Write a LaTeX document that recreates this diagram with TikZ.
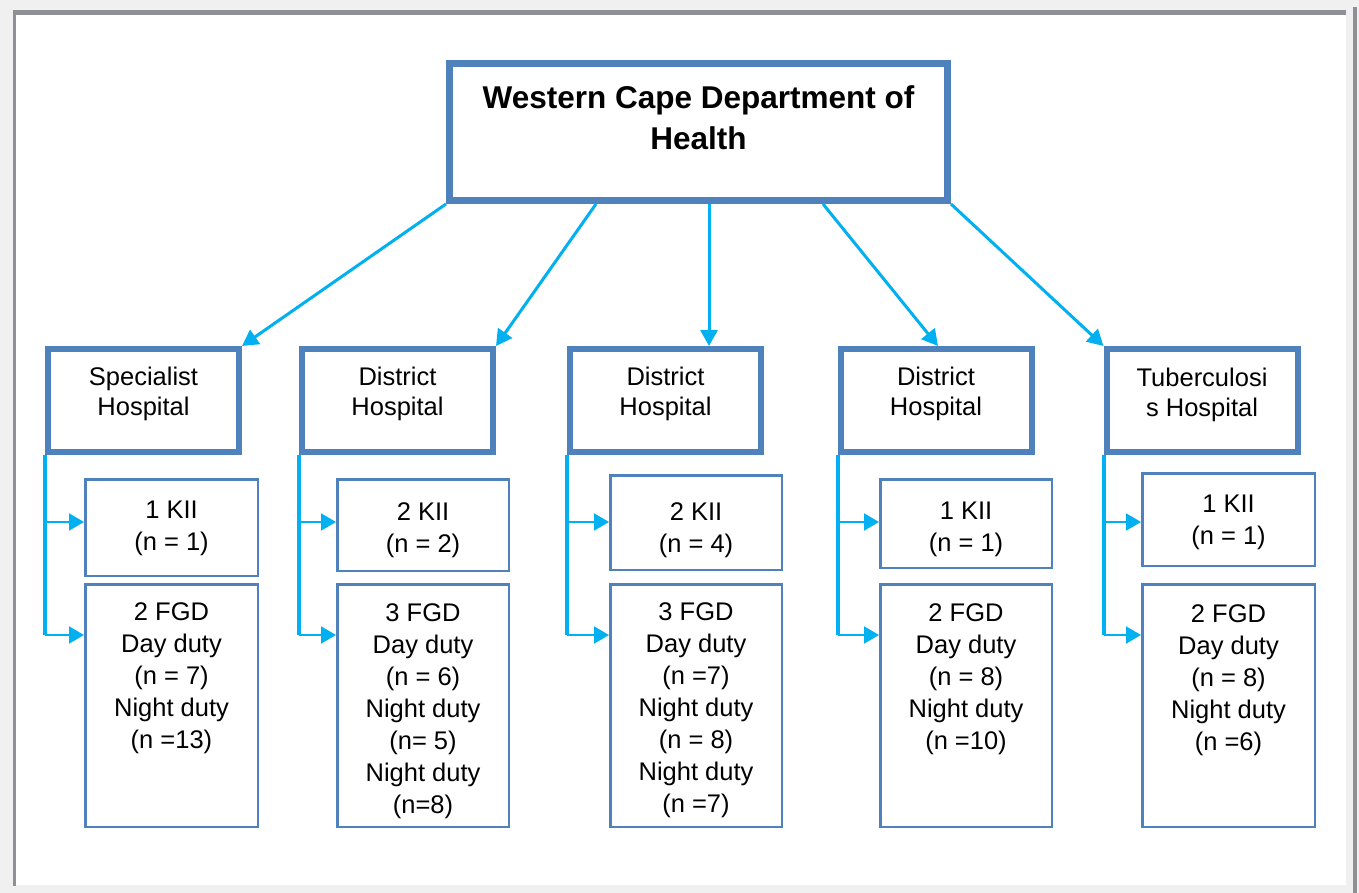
\documentclass[tikz,border=0pt]{standalone}
\usepackage{fontspec}
\setmainfont{Liberation Sans}
\usetikzlibrary{arrows.meta}
\definecolor{boxblue}{HTML}{4F81BD}
\definecolor{linkblue}{HTML}{00B0F0}
\definecolor{framegray}{HTML}{8E9095}
\definecolor{pagegray}{HTML}{F0F0F0}
\begin{document}
\begin{tikzpicture}[x=1pt,y=-1pt,
 topbox/.style={draw=boxblue, line width=7pt, minimum width=498pt, minimum height=137pt, inner sep=0pt},
 hospbox/.style={draw=boxblue, line width=6pt, minimum width=191pt, minimum height=103pt, inner sep=0pt},
 subbox/.style={draw=boxblue, line width=2.5pt, inner sep=0pt},
 txt/.style={anchor=north, inner sep=0pt, align=center, font=\fontsize{25.5}{32}\selectfont},
 htxt/.style={anchor=north, inner sep=0pt, align=center, font=\fontsize{25.5}{30}\selectfont},
 ttxt/.style={anchor=north, inner sep=0pt, align=center, font=\bfseries\fontsize{31.5}{41}\selectfont},
 conn/.style={draw=linkblue, line width=3pt, -{Triangle[length=16pt,width=17pt]}},
 trunk/.style={draw=linkblue, line width=4pt},
 branch/.style={draw=linkblue, line width=2pt, -{Triangle[length=15pt,width=17pt]}},
]
\useasboundingbox (0,0) rectangle (1359,893);
% page frame
\fill[pagegray] (0,0) rectangle (1359,893);
\fill[white] (14,14) rectangle (1346,885);
\fill[framegray] (13,10) rectangle (1346,15.5);
\fill[framegray] (13,10) rectangle (16,885.5);
\fill[framegray] (1353,7) rectangle (1357,893);

% top box
\node[topbox] (top) at (698.5,132) {};
\node[ttxt] (toptxt) at (698.5,85) {Western Cape Department of\\Health};

% hospital boxes
\node[hospbox] (spec) at (143.5,400.5) {};
\node[hospbox] (dh2) at (397.5,400.5) {};
\node[hospbox] (dh3) at (665.5,400.5) {};
\node[hospbox] (dh4) at (936,400.5) {};
\node[hospbox] (tb) at (1202,400.5) {};
\node[htxt] (spect) at (143.5,367) {Specialist\\Hospital};
\node[htxt] (dh2t) at (397.5,367) {District\\Hospital};
\node[htxt] (dh3t) at (665.5,367) {District\\Hospital};
\node[htxt] (dh4t) at (936,367) {District\\Hospital};
\node[htxt] (tbt) at (1202,368) {Tuberculosi\\s Hospital};

% KII boxes
\node[subbox, minimum width=172.5pt, minimum height=96.5pt] (k1) at (171.5,527.5) {};
\node[subbox, minimum width=171.5pt, minimum height=91.5pt] (k2) at (423,525) {};
\node[subbox, minimum width=171.5pt, minimum height=94.5pt] (k3) at (696,522.5) {};
\node[subbox, minimum width=171.5pt, minimum height=88.5pt] (k4) at (966,523.5) {};
\node[subbox, minimum width=172.5pt, minimum height=92.5pt] (k5) at (1228.5,519.5) {};
\node[txt] (k1t) at (171.5,500.5) {1 KII\\(n = 1)};
\node[txt] (k2t) at (423,502.5) {2 KII\\(n = 2)};
\node[txt] (k3t) at (696,502.5) {2 KII\\(n = 4)};
\node[txt] (k4t) at (966,501.5) {1 KII\\(n = 1)};
\node[txt] (k5t) at (1228.5,494.5) {1 KII\\(n = 1)};

% FGD boxes
\node[subbox, minimum width=172.5pt, minimum height=242.5pt] (f1) at (171.5,705.5) {};
\node[subbox, minimum width=171.5pt, minimum height=242.5pt] (f2) at (423,705.5) {};
\node[subbox, minimum width=171.5pt, minimum height=242.5pt] (f3) at (696,705.5) {};
\node[subbox, minimum width=171.5pt, minimum height=242.5pt] (f4) at (966,705.5) {};
\node[subbox, minimum width=172.5pt, minimum height=242.5pt] (f5) at (1228.5,705.5) {};
\node[txt] (f1t) at (171.5,602.5) {2 FGD\\Day duty\\(n = 7)\\Night duty\\(n =13)};
\node[txt] (f2t) at (423,603.5) {3 FGD\\Day duty\\(n = 6)\\Night duty\\(n= 5)\\Night duty\\(n=8)};
\node[txt] (f3t) at (696,602.5) {3 FGD\\Day duty\\(n =7)\\Night duty\\(n = 8)\\Night duty\\(n =7)};
\node[txt] (f4t) at (966,603.5) {2 FGD\\Day duty\\(n = 8)\\Night duty\\(n =10)};
\node[txt] (f5t) at (1228.5,604.5) {2 FGD\\Day duty\\(n = 8)\\Night duty\\(n =6)};

% connectors from top box
\draw[conn] (top.south west) -- (spec.north east);
\draw[conn] ([xshift=-102.5pt]top.south) -- (dh2.north east);
\draw[conn] ([xshift=10.5pt]top.south) -- ([xshift=43.5pt]dh3.north);
\draw[conn] ([xshift=124.5pt]top.south) -- ([xshift=2pt]dh4.north);
\draw[conn] (top.south east) -- (tb.north west);

% trunks and branches
\foreach \h/\k/\f in {spec/k1/f1, dh2/k2/f2, dh3/k3/f3, dh4/k4/f4, tb/k5/f5}{
  \draw[trunk] (\h.south west) -- (\h.south west |- 0,635);
  \draw[branch] (\h.south west |- 0,522) -- (\k.west |- 0,522);
  \draw[branch] (\h.south west |- 0,635) -- (\f.west |- 0,635);
}
\end{tikzpicture}
\end{document}
